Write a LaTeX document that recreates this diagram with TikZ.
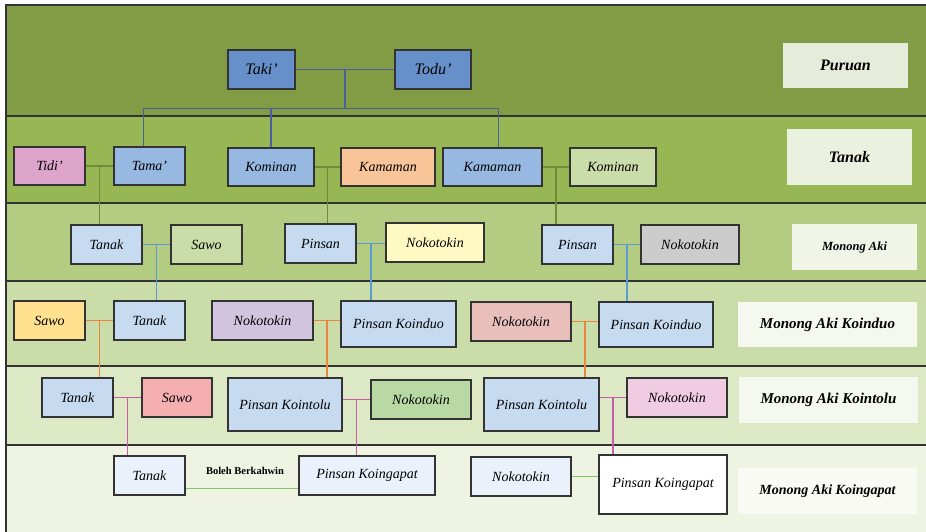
\documentclass[tikz,border=0pt]{standalone}
\usepackage{fontspec}
\setmainfont{Liberation Serif}
\usepackage{tikz}
\usetikzlibrary{calc}

\definecolor{bandA}{HTML}{829C46}
\definecolor{bandB}{HTML}{97B755}
\definecolor{bandC}{HTML}{B3CC82}
\definecolor{bandD}{HTML}{CADCA8}
\definecolor{bandE}{HTML}{DDE8C4}
\definecolor{bandF}{HTML}{EEF3E2}
\definecolor{lblbg}{HTML}{F4F8EE}
\definecolor{darkblue}{HTML}{6590C9}
\definecolor{midblue}{HTML}{97B8E0}
\definecolor{paleblue}{HTML}{C7DBF0}
\definecolor{iceblue}{HTML}{EAF1FA}
\definecolor{lnTop}{HTML}{4B5F9E}
\definecolor{lnOlive}{HTML}{6F8C3B}
\definecolor{lnBlue}{HTML}{5B9BD5}
\definecolor{lnOrange}{HTML}{E9853E}
\definecolor{lnMagenta}{HTML}{C85CA8}
\definecolor{lnGreen}{HTML}{7DC466}

\begin{document}
\begin{tikzpicture}[x=1pt,y=-1pt,
  fam/.style={draw=black!80,line width=1.2pt,minimum width=71pt,minimum height=39pt,inner sep=0pt,font=\fontsize{14}{16}\selectfont\itshape},
  lbl/.style={fill=lblbg,inner sep=0pt,font=\fontsize{16}{18}\selectfont\bfseries\itshape},
  band/.style={draw=black!80,line width=1.2pt},
  link/.style={line width=1.3pt}]
  \useasboundingbox (0,0) rectangle (926,531);

  % generation bands
  \filldraw[band,fill=bandA] (6,5) rectangle (930,116);
  \filldraw[band,fill=bandB] (6,116) rectangle (930,203);
  \filldraw[band,fill=bandC] (6,203) rectangle (930,281);
  \filldraw[band,fill=bandD] (6,281) rectangle (930,366);
  \filldraw[band,fill=bandE] (6,366) rectangle (930,445);
  \filldraw[band,fill=bandF] (6,445) rectangle (930,540);

  % band labels
  \node[lbl,fill={rgb,255:red,230;green,236;blue,218},minimum width=125pt,minimum height=45pt] (puruan) at (845.5,65.5) {Puruan};
  \node[lbl,fill={rgb,255:red,235;green,241;blue,223},minimum width=125pt,minimum height=56pt] (tanaklbl) at (849.5,157) {Tanak};
  \node[lbl,fill={rgb,255:red,240;green,245;blue,232},minimum width=125pt,minimum height=46pt,font=\fontsize{12.5}{14}\selectfont\bfseries\itshape] (monong) at (854.5,247) {Monong Aki};
  \node[lbl,minimum width=179pt,minimum height=45pt,font=\fontsize{15}{17}\selectfont\bfseries\itshape] (koinduo) at (827.5,324.5) {Monong Aki Koinduo};
  \node[lbl,minimum width=179pt,minimum height=46pt,font=\fontsize{15}{17}\selectfont\bfseries\itshape] (kointolu) at (828.5,400) {Monong Aki Kointolu};
  \node[lbl,fill={rgb,255:red,248;green,250;blue,243},minimum width=179pt,minimum height=46pt,font=\fontsize{14}{16}\selectfont\bfseries\itshape] (koingapat) at (827.5,491) {Monong Aki Koingapat};

  % Puruan
  \node[fam,fill=darkblue,minimum width=67pt,font=\fontsize{16}{18}\selectfont\itshape] (taki) at (261.5,69.5) {Taki’};
  \node[fam,fill=darkblue,minimum width=76pt,font=\fontsize{16}{18}\selectfont\itshape] (todu) at (433,69.5) {Todu’};

  % Tanak
  \node[fam,fill={rgb,255:red,221;green,165;blue,203},minimum height=38pt] (tidi) at (49.5,166) {Tidi’};
  \node[fam,fill=midblue,minimum height=38pt] (tama) at (149.5,166) {Tama’};
  \node[fam,fill=midblue,minimum width=86pt,minimum height=38pt] (kominanA) at (271,167) {Kominan};
  \node[fam,fill={rgb,255:red,249;green,197;blue,152},minimum width=94pt,minimum height=38pt] (kamamanA) at (388,167) {Kamaman};
  \node[fam,fill=midblue,minimum width=99pt,minimum height=38pt] (kamamanB) at (492.5,167) {Kamaman};
  \node[fam,fill=bandD,minimum width=86pt,minimum height=38pt] (kominanB) at (613,167) {Kominan};

  % Monong Aki
  \node[fam,fill=paleblue] (tanakC) at (106.5,244.5) {Tanak};
  \node[fam,fill=bandD] (sawoC) at (206.5,244.5) {Sawo};
  \node[fam,fill=paleblue] (pinsanA) at (320.5,243.5) {Pinsan};
  \node[fam,fill={rgb,255:red,255;green,250;blue,195},minimum width=98pt] (nokoCa) at (435,242.5) {Nokotokin};
  \node[fam,fill=paleblue] (pinsanB) at (577.5,244.5) {Pinsan};
  \node[fam,fill=black!20,minimum width=98pt] (nokoCb) at (690,244.5) {Nokotokin};

  % Monong Aki Koinduo
  \node[fam,fill={rgb,255:red,255;green,224;blue,143}] (sawoD) at (49.5,320.5) {Sawo};
  \node[fam,fill=paleblue] (tanakD) at (149.5,320.5) {Tanak};
  \node[fam,fill={rgb,255:red,208;green,196;blue,222},minimum width=101pt] (nokoDa) at (262.5,320.5) {Nokotokin};
  \node[fam,fill=paleblue,minimum width=115pt,minimum height=46pt] (pkDa) at (398.5,324) {Pinsan Koinduo};
  \node[fam,fill={rgb,255:red,233;green,191;blue,188},minimum width=100pt] (nokoDb) at (521,321.5) {Nokotokin};
  \node[fam,fill=paleblue,minimum width=114pt,minimum height=45pt] (pkDb) at (656,324.5) {Pinsan Koinduo};

  % Monong Aki Kointolu
  \node[fam,fill=paleblue] (tanakE) at (77.5,397.5) {Tanak};
  \node[fam,fill={rgb,255:red,245;green,175;blue,177},minimum width=70pt] (sawoE) at (177,397.5) {Sawo};
  \node[fam,fill=paleblue,minimum width=114pt,minimum height=53pt] (pkEa) at (285,404.5) {Pinsan Kointolu};
  \node[fam,fill={rgb,255:red,185;green,217;blue,164},minimum width=100pt] (nokoEa) at (421,399.5) {Nokotokin};
  \node[fam,fill=paleblue,minimum width=115pt,minimum height=53pt] (pkEb) at (541.5,404.5) {Pinsan Kointolu};
  \node[fam,fill={rgb,255:red,240;green,204;blue,227},minimum width=100pt] (nokoEb) at (677,397.5) {Nokotokin};

  % Monong Aki Koingapat
  \node[fam,fill=iceblue] (tanakF) at (149.5,475.5) {Tanak};
  \node[fam,fill=iceblue,minimum width=136pt] (pkFa) at (367,475.5) {Pinsan Koingapat};
  \node[fam,fill=iceblue,minimum width=100pt] (nokoF) at (521,476.5) {Nokotokin};
  \node[fam,fill=white,minimum width=128pt,minimum height=59pt] (pkFb) at (663,484.5) {Pinsan Koingapat};
  \node[font=\fontsize{10.5}{12}\selectfont\bfseries] (boleh) at (245,471) {Boleh Berkahwin};

  % Puruan to Tanak
  \coordinate (m0) at ($(taki.east)!.5!(todu.west)$);
  \coordinate (bar) at ($(m0)+(0,39)$);
  \draw[link,lnTop] (taki) -- (todu);
  \draw[link,lnTop] (m0) -- (bar);
  \draw[link,lnTop] ([xshift=-6pt]tama.north) |- (bar) -| ([xshift=6pt]kamamanB.north);
  \draw[link,lnTop] (kominanA.north) -- (kominanA.north |- bar);

  % Tanak to Monong Aki
  \draw[link,lnOlive] (tidi.east) -- (tidi.east -| tama.west);
  \coordinate (c1) at ($(tidi.east)!.5!(tidi.east -| tama.west)$);
  \draw[link,lnOlive] (c1) -- (c1 |- tanakC.north);
  \draw[link,lnOlive] (kominanA.east) -- (kominanA.east -| kamamanA.west);
  \coordinate (c2) at ($(kominanA.east)!.5!(kominanA.east -| kamamanA.west)$);
  \draw[link,lnOlive] (c2) -- (c2 |- pinsanA.north);
  \draw[link,lnOlive] (kamamanB.east) -- (kamamanB.east -| kominanB.west);
  \coordinate (c3) at ($(kamamanB.east)!.5!(kamamanB.east -| kominanB.west)$);
  \draw[link,lnOlive] (c3) -- (c3 |- pinsanB.north);

  % Monong Aki to Koinduo
  \draw[link,lnBlue] (tanakC.east) -- (tanakC.east -| sawoC.west);
  \coordinate (c4) at ($(tanakC.east)!.5!(tanakC.east -| sawoC.west)$);
  \draw[link,lnBlue] (c4) -- (c4 |- tanakD.north);
  \draw[link,lnBlue] (pinsanA.east) -- (pinsanA.east -| nokoCa.west);
  \coordinate (c5) at ($(pinsanA.east)!.5!(pinsanA.east -| nokoCa.west)$);
  \draw[link,lnBlue] (c5) -- (c5 |- pkDa.north);
  \draw[link,lnBlue] (pinsanB.east) -- (pinsanB.east -| nokoCb.west);
  \coordinate (c6) at ($(pinsanB.east)!.5!(pinsanB.east -| nokoCb.west)$);
  \draw[link,lnBlue] (c6) -- (c6 |- pkDb.north);

  % Koinduo to Kointolu
  \draw[link,lnOrange] (sawoD.east) -- (sawoD.east -| tanakD.west);
  \coordinate (c7) at ($(sawoD.east)!.5!(sawoD.east -| tanakD.west)$);
  \draw[link,lnOrange] (c7) -- (c7 |- tanakE.north);
  \draw[link,lnOrange] (nokoDa.east) -- (nokoDa.east -| pkDa.west);
  \coordinate (c8) at ($(nokoDa.east)!.5!(nokoDa.east -| pkDa.west)$);
  \draw[link,lnOrange] (c8) -- (c8 |- pkEa.north);
  \draw[link,lnOrange] (nokoDb.east) -- (nokoDb.east -| pkDb.west);
  \coordinate (c9) at ($(nokoDb.east)!.5!(nokoDb.east -| pkDb.west)$);
  \draw[link,lnOrange] (c9) -- (c9 |- pkEb.north);

  % Kointolu to Koingapat
  \draw[link,lnMagenta] (tanakE.east) -- (tanakE.east -| sawoE.west);
  \coordinate (c10) at ($(tanakE.east)!.5!(tanakE.east -| sawoE.west)$);
  \draw[link,lnMagenta] (c10) -- (c10 |- tanakF.north);
  \draw[link,lnMagenta] (nokoEa.west -| pkEa.east) -- (nokoEa.west);
  \coordinate (c11) at ($(nokoEa.west -| pkEa.east)!.5!(nokoEa.west)$);
  \draw[link,lnMagenta] (c11) -- (c11 |- pkFa.north);
  \draw[link,lnMagenta] (nokoEb.west -| pkEb.east) -- (nokoEb.west);
  \coordinate (c12) at ($(nokoEb.west -| pkEb.east)!.5!(nokoEb.west)$);
  \draw[link,lnMagenta] (c12) -- (c12 |- pkFb.north);

  % marriage allowed
  \draw[link,lnGreen] ([yshift=-13pt]tanakF.east) -- ([yshift=-13pt]tanakF.east -| pkFa.west);
  \draw[link,lnGreen] (nokoF.east) -- (nokoF.east -| pkFb.west);
\end{tikzpicture}
\end{document}
